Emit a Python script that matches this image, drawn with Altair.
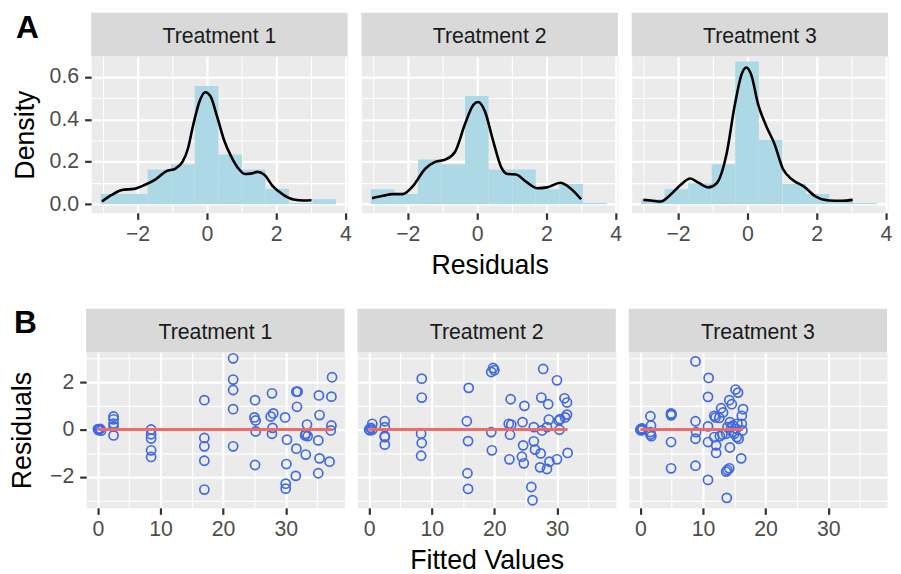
import altair as alt
import pandas as pd

FONT = "Liberation Sans"
treatments = ["Treatment 1", "Treatment 2", "Treatment 3"]
tags = ["A", "B"]

# ---------------- Histogram data (panel A) ----------------
bin_lo = [-3.07, -2.39, -1.71, -1.03, -0.35, 0.33, 1.01, 1.69, 2.37, 3.05]
bin_hi = [-2.39, -1.71, -1.03, -0.35, 0.33, 1.01, 1.69, 2.37, 3.05, 3.73]
hist_t1 = [0.048, 0.048, 0.163, 0.188, 0.557, 0.234, 0.163, 0.072, 0.005, 0.023]
hist_t2 = [0.070, 0.048, 0.210, 0.188, 0.510, 0.163, 0.163, 0.070, 0.095, 0.006]
hist_t3 = [0.024, 0.071, 0.098, 0.188, 0.673, 0.303, 0.096, 0.048, 0.012, 0.005]

# density curves
dens_x_t1 = [-3.03, -2.76, -2.45, -2.1, -1.8, -1.47, -1.18, -0.9, -0.7, -0.55, -0.4, -0.2, -0.05,
             0.1, 0.3, 0.5, 0.7, 0.9, 1.1, 1.3, 1.45, 1.65, 1.9, 2.2, 2.5, 2.8, 3.02]
dens_y_t1 = [0.012, 0.042, 0.067, 0.072, 0.09, 0.118, 0.155, 0.168, 0.2, 0.26, 0.37, 0.49, 0.528,
             0.51, 0.41, 0.30, 0.225, 0.17, 0.142, 0.145, 0.152, 0.14, 0.085, 0.045, 0.022, 0.017, 0.018]
dens_x_t2 = [-3.03, -2.72, -2.44, -2.15, -1.87, -1.49, -1.21, -0.92, -0.64, -0.35, -0.11, 0.03,
             0.22, 0.46, 0.69, 0.88, 1.12, 1.41, 1.74, 2.02, 2.4, 2.69, 3.0]
dens_y_t2 = [0.028, 0.039, 0.047, 0.047, 0.082, 0.168, 0.199, 0.21, 0.246, 0.378, 0.468, 0.482,
             0.44, 0.30, 0.176, 0.142, 0.14, 0.106, 0.075, 0.079, 0.101, 0.075, 0.023]
dens_x_t3 = [-3.0, -2.79, -2.5, -2.22, -1.93, -1.65, -1.41, -1.12, -0.89, -0.6, -0.36, -0.17, -0.03,
             0.11, 0.31, 0.54, 0.78, 1.02, 1.31, 1.64, 1.97, 2.35, 2.73, 3.04]
dens_y_t3 = [0.02, 0.017, 0.012, 0.044, 0.09, 0.121, 0.101, 0.079, 0.098, 0.238, 0.471, 0.611, 0.645,
             0.611, 0.471, 0.37, 0.285, 0.168, 0.114, 0.082, 0.036, 0.017, 0.016, 0.02]

# ---------------- Residuals vs fitted (panel B) ----------------
fitted_t1 = [0.0, 0.1, 0.2, 0.35, 0.5,
             2.5, 2.5, 2.5, 2.5, 2.5,
             8.5, 8.5, 8.5, 8.5, 8.5,
             17.0, 17.0, 17.0, 17.0, 17.0,
             21.6, 21.6, 21.6, 21.6, 21.6,
             25.1, 25.0, 25.2, 25.2, 25.1,
             27.8, 28.0, 27.6, 27.9, 27.8,
             29.9, 30.2, 30.1, 30.0, 30.0,
             31.7, 31.9, 31.8, 31.7, 31.6,
             33.4, 33.2, 33.1, 33.5, 33.2,
             35.3, 35.4, 35.2, 35.4, 35.2,
             37.4, 37.3, 37.3, 37.2, 37.0]
resid_t1 = [0.02, -0.03, 0.0, 0.03, -0.05,
            0.55, 0.43, 0.25, 0.12, -0.25,
            0.0, -0.2, -0.38, -0.88, -1.16,
            1.24, -0.36, -0.71, -1.32, -2.54,
            3.01, 2.11, 1.67, 0.86, -0.71,
            1.24, 0.51, 0.38, -0.08, -1.5,
            1.53, 0.68, 0.55, 0.07, -0.18,
            0.51, -0.43, -1.46, -2.29, -2.5,
            1.6, 1.6, 0.96, -0.81, -1.96,
            0.21, -0.18, -0.25, -0.28, -1.06,
            1.44, 0.61, -0.46, -1.22, -1.85,
            2.21, 1.39, 0.17, -0.04, -1.36]

fitted_t2 = [0.0, 0.15, 0.26, 0.5, 0.5,
             2.5, 2.5, 2.5, 2.5, 2.5,
             8.4, 8.4, 8.3, 8.4, 8.3,
             15.9, 15.6, 15.8, 15.7, 15.8,
             19.8, 20.0, 19.5, 19.5, 19.6,
             22.6, 22.3, 22.7, 22.5, 22.4,
             24.8, 24.5, 24.6, 24.4, 24.7,
             25.9, 26.1, 26.3, 26.3, 26.5,
             27.8, 27.5, 27.6, 27.4, 27.3,
             28.6, 28.7, 28.4, 28.4, 28.8,
             30.0, 30.3, 30.4, 30.0, 30.5,
             31.2, 31.6, 31.6, 31.3, 31.7]
resid_t2 = [0.0, -0.04, 0.07, 0.24, -0.01,
            0.35, 0.1, -0.28, -0.32, -0.64,
            2.15, 1.35, -0.18, -0.57, -1.11,
            1.76, 0.35, -0.49, -1.85, -2.51,
            2.6, 2.51, 2.43, -0.11, -0.88,
            1.28, 0.24, 0.21, -0.22, -1.26,
            1.0, 0.31, -0.67, -1.15, -1.43,
            -2.43, -2.99, 0.1, -0.5, -0.85,
            2.56, 1.35, -0.04, -1.01, -1.6,
            1.07, 0.42, 0.1, -1.67, -1.36,
            2.08, 0.38, -0.01, -1.26, 0.44,
            1.32, 1.14, 0.63, 0.51, -0.99]

fitted_t3 = [0.0, 0.15, 0.3, 0.1, 0.25,
             1.6, 1.7, 1.6, 1.6, 1.75,
             4.9, 5.0, 4.9, 4.9, 4.9,
             8.8, 8.8, 8.9, 8.8, 8.8,
             10.9, 10.8, 10.8, 10.8, 10.8,
             11.8, 12.0, 11.8, 12.1, 12.1,
             12.9, 13.2, 12.6, 13.1, 12.7,
             13.8, 13.7, 13.9, 14.2, 14.3,
             14.2, 14.6, 14.3, 14.5, 14.7,
             15.2, 15.6, 15.5, 15.4, 15.7,
             16.4, 16.2, 16.1, 16.3, 16.2,
             13.9, 13.7, 15.0, 14.8, 15.3]
resid_t3 = [0.0, 0.03, -0.02, -0.04, 0.05,
            0.56, 0.17, -0.11, -0.21, -0.28,
            0.68, 0.64, 0.6, -0.53, -1.64,
            2.88, 0.35, -0.11, -0.39, -1.53,
            2.18, 1.38, 0.13, -0.53, -2.13,
            0.58, 0.51, -0.32, -0.67, -0.99,
            0.9, 0.72, 0.49, -0.21, -0.28,
            -2.89, -1.78, -1.71, -1.64, -0.76,
            1.24, 1.07, 0.31, 0.1, -0.11,
            1.69, 1.56, 0.24, -0.32, -0.39,
            0.86, 0.58, -1.22, -0.04, 0.24,
            0.1, -0.18, -0.18, 0.17, 0.03]

# axis tick values (major + minor grid)
top_x_ticks = [-3, -2, -1, 0, 1, 2, 3, 4]
top_y_ticks = [0.0, 0.1, 0.2, 0.3, 0.4, 0.5, 0.6]
bot_x_ticks = [0, 5, 10, 15, 20, 25, 30, 35]
bot_y_ticks = [-3, -2, -1, 0, 1, 2, 3]

hists = [hist_t1, hist_t2, hist_t3]
dens_x = [dens_x_t1, dens_x_t2, dens_x_t3]
dens_y = [dens_y_t1, dens_y_t2, dens_y_t3]
fitted = [fitted_t1, fitted_t2, fitted_t3]
resid = [resid_t1, resid_t2, resid_t3]

# ---------------- style ----------------
W_TOP, H_TOP = 259, 158
W_BOT, H_BOT = 261, 157
STRIP_H = 44
BLUE = "#4169E1"
RED = "#F26A66"
HIST_FILL = "#ADD8E6"


def cond(test, a, b):
    return {"condition": {"test": test, "value": a}, "value": b}


def make_axis(values, test, fmt, title, show, **extra):
    kw = dict(
        values=values,
        grid=True,
        gridColor="white",
        gridWidth=cond(test, 2.2, 1.1),
        title=title,
        format=fmt,
    )
    if show:
        kw.update(
            labelExpr="(" + test + ") ? datum.label : ''",
            tickOpacity=cond(test, 1, 0),
            ticks=True,
            labels=True,
        )
    else:
        kw.update(ticks=False, labels=False)
    kw.update(extra)
    return alt.Axis(**kw)


def strip_layers(label, w, tag=None, tag_x=0, tag_y=0):
    """Grey facet strip drawn just above the panel, plus optional panel tag."""
    sdf = pd.DataFrame({"label": [label]})
    rect = alt.Chart(sdf).mark_rect(color="#D9D9D9").encode(
        x=alt.value(0), x2=alt.value(w), y=alt.value(-STRIP_H), y2=alt.value(0)
    )
    txt = alt.Chart(sdf).mark_text(
        font=FONT, fontSize=21.5, color="#1A1A1A", baseline="alphabetic", align="center"
    ).encode(text="label:N", x=alt.value(w / 2), y=alt.value(-STRIP_H + 30))
    out = [rect, txt]
    if tag:
        out.append(
            alt.Chart(pd.DataFrame({"tag": [tag]}))
            .mark_text(font=FONT, fontSize=32, fontWeight="bold", color="black",
                       align="left", baseline="alphabetic")
            .encode(text="tag:N", x=alt.value(tag_x), y=alt.value(tag_y))
        )
    return out


def spacer(w):
    return (
        alt.Chart(pd.DataFrame({"v": [0]}))
        .mark_point(opacity=0)
        .encode(x=alt.value(0), y=alt.value(0))
        .properties(width=w, height=10,
                    view=alt.ViewBackground(fill="transparent", stroke="transparent"))
    )


def top_panel(i):
    hist = pd.DataFrame({"x": bin_lo, "x2": bin_hi, "y": hists[i]})
    dens = pd.DataFrame({"x": dens_x[i], "y": dens_y[i]})
    xs = alt.Scale(domain=[-3.34, 4.06], nice=False, zero=False)
    ys = alt.Scale(domain=[-0.041, 0.697], nice=False, zero=False)
    xa = make_axis(top_x_ticks, "datum.value % 2 == 0", "d",
                   "Residuals" if i == 1 else None, True)
    ya = make_axis(top_y_ticks, "round(datum.value * 10) % 2 == 0", ".1f",
                   "Density" if i == 0 else None, i == 0)
    bars = alt.Chart(hist).mark_rect(color=HIST_FILL).encode(
        x=alt.X("x:Q", scale=xs, axis=xa),
        x2="x2:Q",
        y=alt.Y("y:Q", scale=ys, axis=ya),
        y2=alt.datum(0),
    )
    line = alt.Chart(dens).mark_line(color="black", strokeWidth=2.6, interpolate="monotone").encode(
        x=alt.X("x:Q", scale=xs, axis=xa),
        y=alt.Y("y:Q", scale=ys, axis=ya),
    )
    extra = strip_layers(treatments[i], W_TOP, tags[0] if i == 0 else None, -76, -STRIP_H + 25)
    return alt.layer(bars, line, *extra).properties(width=W_TOP, height=H_TOP)


def bottom_panel(i):
    df = pd.DataFrame({"x": fitted[i], "y": resid[i]})
    xs = alt.Scale(domain=[-1.87, 39.4], nice=False, zero=False)
    ys = alt.Scale(domain=[-3.31, 3.26], nice=False, zero=False)
    xa = make_axis(bot_x_ticks, "datum.value % 10 == 0", "d",
                   "Fitted Values" if i == 1 else None, True)
    ya = make_axis(bot_y_ticks, "datum.value % 2 == 0", "d",
                   "Residuals" if i == 0 else None, i == 0, titlePadding=13)
    pts = alt.Chart(df).mark_point(color=BLUE, size=85, strokeWidth=1.7, filled=False, opacity=1).encode(
        x=alt.X("x:Q", scale=xs, axis=xa),
        y=alt.Y("y:Q", scale=ys, axis=ya),
    )
    line = alt.Chart(df).transform_calculate(y="0").mark_line(color=RED, strokeWidth=3.2).encode(
        x=alt.X("x:Q", scale=xs, axis=xa),
        y=alt.Y("y:Q", scale=ys, axis=ya),
    )
    extra = strip_layers(treatments[i], W_BOT, tags[1] if i == 0 else None, -73, -STRIP_H + 24)
    return alt.layer(pts, line, *extra).properties(width=W_BOT, height=H_BOT)


# small invisible spacers shift row A 5px right of row B (as in the reference)
rowA = alt.hconcat(spacer(5), *[top_panel(k) for k in range(3)], spacing=14, bounds="flush")
rowB = alt.hconcat(spacer(1), *[bottom_panel(k) for k in range(3)], spacing=13, bounds="flush")

chart = (
    alt.vconcat(rowA, rowB, spacing=27, bounds="full")
    .properties(padding={"left": 0, "top": 0, "right": 0, "bottom": 0}, background="white")
    .configure_view(fill="#EBEBEB", stroke="transparent")
    .configure_axis(
        domain=False,
        tickColor="#333333",
        tickWidth=2.2,
        tickSize=6.6,
        labelColor="#4D4D4D",
        labelFont=FONT,
        labelFontSize=21.5,
        labelFlush=False,
        labelOverlap=False,
        titleFont=FONT,
        titleFontSize=27,
        titleFontWeight="normal",
        titleColor="black",
    )
    .configure_axisX(labelPadding=4, titlePadding=8)
    .configure_axisY(labelPadding=6, titlePadding=10)
)

chart.save("out.html", embed_options={"renderer": "svg", "actions": False})
